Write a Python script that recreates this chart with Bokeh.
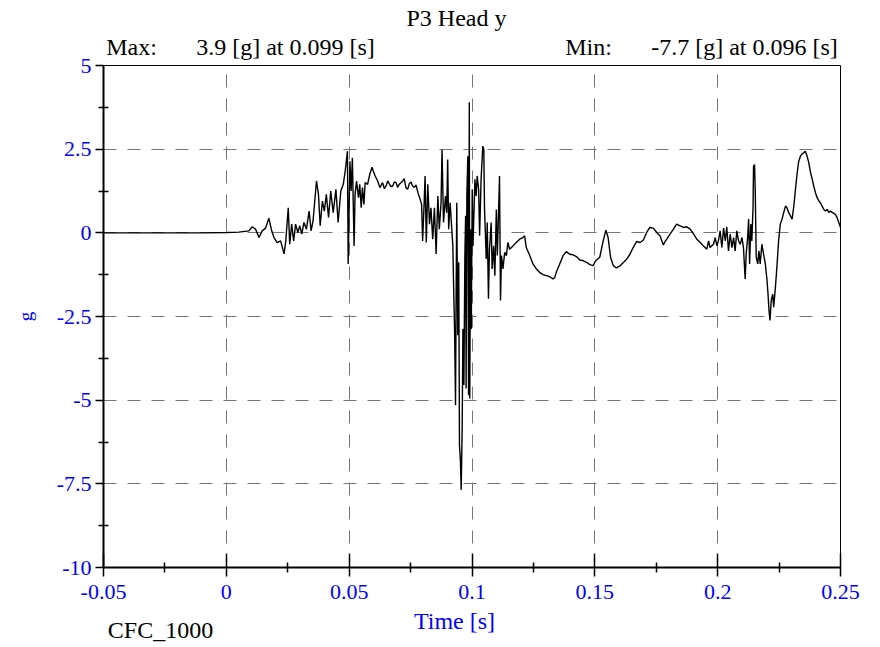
import math
import numpy as np
from bokeh.plotting import figure
from bokeh.models import Range1d, FixedTicker, CustomJSTickFormatter, LinearAxis
from bokeh.embed import file_html
from bokeh.resources import INLINE

# ---------------- data ----------------
time_s = [
    -0.05, -0.04, -0.03, -0.02, -0.01, 0.0, 0.0051, 0.0092, 0.0105, 0.0119,
    0.0133, 0.0146, 0.0160, 0.0173, 0.0184, 0.0194, 0.0207, 0.0221, 0.0235, 0.0242,
    0.0252, 0.0258, 0.0266, 0.0274, 0.0282, 0.0291, 0.0299, 0.0307, 0.0316, 0.0326,
    0.0337, 0.0345, 0.0353, 0.0367, 0.0375, 0.0382, 0.0391, 0.0399, 0.0407, 0.0416,
    0.0425, 0.0435, 0.0446, 0.0455, 0.0466, 0.0476, 0.0484, 0.0493,
    0.0496, 0.0503, 0.0508, 0.0513, 0.0520, 0.0524, 0.0530, 0.0538, 0.0543, 0.0549,
    0.0554, 0.0560, 0.0565, 0.0575, 0.0584, 0.0593, 0.0598, 0.0606, 0.0616, 0.0625,
    0.0636, 0.0643, 0.0650, 0.0657, 0.0663, 0.0670, 0.0677, 0.0684, 0.0691, 0.0697,
    0.0704, 0.0711, 0.0718, 0.0724, 0.0731, 0.0738, 0.0745, 0.0752, 0.0758, 0.0765,
    0.0772, 0.0780, 0.0789, 0.0795, 0.0799, 0.0805, 0.0809, 0.0814, 0.0820, 0.0827,
    0.0833, 0.0840, 0.0847, 0.0854,
    0.0861, 0.0867, 0.0874, 0.0878, 0.0884, 0.0892, 0.0897, 0.0901, 0.0905, 0.0911,
    0.0916, 0.0922, 0.0926, 0.0929, 0.0933, 0.0935, 0.0938, 0.0942, 0.0946, 0.0949,
    0.0953, 0.0956, 0.0960, 0.0963, 0.0967, 0.0971, 0.0974, 0.0976, 0.0979, 0.0983,
    0.0986, 0.0989, 0.0991, 0.0994, 0.0997, 0.1001, 0.1004, 0.1008, 0.1012, 0.1017,
    0.1021, 0.1027, 0.1031, 0.1037, 0.1044, 0.1048, 0.1051, 0.1058, 0.1062, 0.1067,
    0.1071, 0.1078, 0.1082, 0.1088, 0.1093, 0.1099, 0.1103, 0.1108, 0.1112, 0.1116,
    0.1120, 0.1126, 0.1133, 0.1140, 0.1146, 0.1153, 0.1167, 0.1180, 0.1194,
    0.1207, 0.1214, 0.1221, 0.1235, 0.1248, 0.1262, 0.1275, 0.1289, 0.1303, 0.1316,
    0.1330, 0.1337, 0.1343, 0.1357, 0.1371, 0.1384, 0.1398, 0.1412, 0.1425, 0.1439,
    0.1452, 0.1466, 0.1480, 0.1493, 0.1500, 0.1507, 0.1520, 0.1534, 0.1545, 0.1554,
    0.1564, 0.1575, 0.1588, 0.1602, 0.1616, 0.1629, 0.1643, 0.1656, 0.1670, 0.1684,
    0.1697, 0.1711, 0.1724, 0.1738, 0.1752, 0.1765, 0.1779, 0.1786, 0.1793, 0.1806,
    0.1820, 0.1833, 0.1847, 0.1861, 0.1874, 0.1888, 0.1901, 0.1915, 0.1929,
    0.1942, 0.1956, 0.1963, 0.1969, 0.1983, 0.1990, 0.1997, 0.2003, 0.2010, 0.2017,
    0.2024, 0.2031, 0.2037, 0.2044, 0.2051, 0.2058, 0.2065, 0.2071, 0.2078, 0.2085,
    0.2092, 0.2099, 0.2105, 0.2112, 0.2116, 0.2122, 0.2126, 0.2130, 0.2135, 0.2139,
    0.2144, 0.2146, 0.2150, 0.2153, 0.2157, 0.2163, 0.2168, 0.2173, 0.2180, 0.2187,
    0.2194, 0.2201, 0.2205, 0.2209, 0.2213, 0.2218, 0.2224, 0.2228, 0.2235, 0.2242,
    0.2248, 0.2255, 0.2262, 0.2269, 0.2276, 0.2282, 0.2289, 0.2296, 0.2303, 0.2310,
    0.2316, 0.2323, 0.2330, 0.2337, 0.2344, 0.2350, 0.2357, 0.2364, 0.2371, 0.2378,
    0.2385, 0.2391, 0.2398, 0.2405, 0.2412, 0.2418, 0.2425, 0.2432, 0.2439, 0.2446,
    0.2452, 0.2459, 0.2466, 0.2473, 0.2480, 0.2487, 0.2493, 0.2500,
]
accel_g = [
    0.0, 0.0, 0.0, 0.0, 0.0, 0.01, 0.02, 0.06, 0.18, 0.11,
    -0.14, 0.06, 0.14, 0.44, 0.08, -0.14, -0.29, -0.24, -0.63, -0.24,
    0.75, -0.34, 0.26, -0.24, 0.26, 0.01, 0.21, -0.04, 0.31, 0.11,
    0.65, 0.06, 0.36, 1.55, 1.15, 0.21, 0.95, 0.65, 1.15, 0.46,
    1.25, 0.60, 1.30, 0.31, 1.25, 1.45, 1.85, 2.44,
    -0.93, 2.14, 1.25, 2.24, -0.39, 1.15, 1.55, 1.05, 1.45, 0.75,
    1.35, 0.85, 1.50, 1.45, 1.75, 1.96, 1.85, 1.70, 1.55, 1.35,
    1.50, 1.32, 1.40, 1.55, 1.47, 1.38, 1.40, 1.52, 1.50, 1.36,
    1.45, 1.50, 1.55, 1.62, 1.35, 1.30, 1.47, 1.52, 1.40, 1.36,
    1.43, 1.20, 1.00, 0.85, -0.24, 0.85, 1.70, -0.29, 1.45, 0.26,
    0.75, -0.19, 0.75, -0.63,
    1.10, 0.11, 0.90, 2.49, 0.31, 1.10, 0.60, 2.19, 0.11, 0.90,
    0.31, -0.39, -1.87, -2.87, -5.15, -2.27, 0.90, -3.06, -0.88, -6.34,
    -6.83, -7.68, -5.84, -2.87, -4.55, -0.68, 0.51, -4.65, 1.10, 2.29,
    -4.85, 3.90, -4.95, 0.11, -2.87, 1.30, -0.39, 0.60, 1.60, 1.10,
    1.70, 1.30, -0.09, 1.60, 2.59, 2.49, 0.70, -0.78, 0.31, -1.97,
    -0.49, 0.31, -1.08, -0.39, -1.28, 0.70, -0.68, 0.60, 1.70, -2.02,
    -0.68, -1.08, -0.58, -0.68, -0.29, -0.49, -0.39, -0.29, -0.19,
    -0.14, -0.09, -0.44, -0.68, -0.93, -1.08, -1.18, -1.25, -1.28, -1.31,
    -1.38, -1.33, -1.18, -0.93, -0.68, -0.56, -0.64, -0.66, -0.71, -0.81,
    -0.83, -0.88, -0.95, -0.98, -0.88, -0.81, -0.73, -0.24, 0.08, -0.14,
    -0.73, -0.98, -1.05, -0.99, -0.89, -0.79, -0.64, -0.44, -0.26, -0.29,
    -0.22, 0.01, 0.16, 0.14, 0.01, -0.09, -0.36, -0.26, -0.19, -0.04,
    0.11, 0.26, 0.21, 0.16, 0.18, 0.11, -0.02, -0.19, -0.29,
    -0.39, -0.49, -0.24, -0.44, -0.34, -0.14, -0.39, -0.24, 0.06, -0.44,
    0.14, -0.24, 0.18, -0.54, -0.04, -0.44, -0.14, -0.54, 0.06, -0.24,
    -0.34, -0.14, -0.44, -1.38, -0.64, -0.14, 0.41, -0.93, 0.26, -0.24,
    0.75, 1.99, 2.04, 1.25, -0.73, -0.93, -0.54, -0.93, -0.34, -0.64,
    -0.93, -1.43, -1.83, -2.32, -2.62, -2.02, -1.83, -2.22, -1.63, -0.93,
    -0.24, 0.26, 0.41, 0.61, 0.80, 0.75, 0.61, 0.51, 0.41, 0.80,
    1.25, 1.75, 2.14, 2.29, 2.36, 2.39, 2.44, 2.29, 2.09, 1.80,
    1.60, 1.40, 1.20, 1.05, 0.95, 0.90, 0.80, 0.70, 0.65, 0.70,
    0.61, 0.65, 0.61, 0.58, 0.54, 0.44, 0.31, 0.16,
]

x_ticks = [-0.05, 0.0, 0.05, 0.1, 0.15, 0.2, 0.25]
x_tick_labels = ["-0.05", "0", "0.05", "0.1", "0.15", "0.2", "0.25"]
y_ticks = [5.0, 2.5, 0.0, -2.5, -5.0, -7.5, -10.0]
y_tick_labels = ["5", "2.5", "0", "-2.5", "-5", "-7.5", "-10"]

title_text = "P3 Head y"
x_title = "Time [s]"
y_title = "g"
filter_text = "CFC_1000"

# ---------------- layout ----------------
X0, X1 = -0.05, 0.25
Y0, Y1 = -10.0, 5.0
W, H = 872, 645
FL, FR, FT, FB = 103, 840, 65, 568   # frame edges in figure pixels

def dx(px):
    return X0 + (px - FL) / (FR - FL) * (X1 - X0)

FONT = "Liberation Serif"
BLUE = "#0000ff"

p = figure(width=W, height=H, output_backend="svg", toolbar_location=None,
           x_range=Range1d(X0, X1), y_range=Range1d(Y0, Y1),
           min_border_left=FL, min_border_right=W - FR,
           min_border_top=FT, min_border_bottom=H - FB)
p.background_fill_color = "white"
p.border_fill_color = "white"
p.outline_line_color = "black"
p.outline_line_width = 1

x_minor = [(a + b) / 2 for a, b in zip(x_ticks[:-1], x_ticks[1:])]
y_minor = [(a + b) / 2 for a, b in zip(y_ticks[:-1], y_ticks[1:])]
xt = FixedTicker(ticks=x_ticks, minor_ticks=x_minor)
yt = FixedTicker(ticks=y_ticks, minor_ticks=y_minor)

fmt_code = """
for (let i = 0; i < vals.length; i++) {
  if (Math.abs(vals[i] - tick) < 1e-9) return labs[i];
}
return '';
"""
def lookup_formatter(vals, labs):
    return CustomJSTickFormatter(args=dict(vals=list(vals), labs=list(labs)), code=fmt_code)

p.xaxis.ticker = xt
p.yaxis.ticker = yt
p.xaxis.formatter = lookup_formatter(x_ticks, x_tick_labels)
p.yaxis.formatter = lookup_formatter(y_ticks, y_tick_labels)

for ax in (p.xaxis, p.yaxis):
    ax.axis_line_color = "black"
    ax.axis_line_width = 2
    ax.major_tick_line_color = "black"
    ax.minor_tick_line_color = "black"
    ax.major_tick_line_width = 1.5
    ax.minor_tick_line_width = 1.5
    ax.major_label_text_font = FONT
    ax.major_label_text_font_size = "22px"
    ax.major_label_text_color = BLUE
    ax.minor_tick_in = 5
    ax.minor_tick_out = 5

p.xaxis.major_tick_in = 14
p.xaxis.major_tick_out = 9
p.xaxis.major_label_standoff = 8
p.yaxis.major_tick_in = 0
p.yaxis.major_tick_out = 8
p.yaxis.major_label_standoff = 4

p.yaxis.axis_label = y_title
p.yaxis.axis_label_text_font = FONT
p.yaxis.axis_label_text_font_size = "19px"
p.yaxis.axis_label_text_font_style = "normal"
p.yaxis.axis_label_text_color = BLUE
p.yaxis.axis_label_standoff = 18

p.xgrid.ticker = xt
p.ygrid.ticker = yt
for g in (p.xgrid, p.ygrid):
    g.grid_line_color = "#777777"
    g.grid_line_dash = "13 11"
    g.grid_line_width = 1

p.line(time_s, accel_g, line_color="black", line_width=1.4)

# ---------------- header / footer texts (as axis labels at chosen spots) ----------------
i_max = int(np.argmax(accel_g))
i_min = int(np.argmin(accel_g))
max_text = f"{accel_g[i_max]:.1f} [g] at {time_s[i_max]:.3f} [s]"
min_text = f"{accel_g[i_min]:.1f} [g] at {time_s[i_min]:.3f} [s]"

def text_axis(texts, centers_px, standoff, color, size):
    pos = [dx(c) for c in centers_px]
    ax = LinearAxis(ticker=FixedTicker(ticks=pos, minor_ticks=[]),
                    formatter=lookup_formatter(pos, texts))
    ax.axis_line_color = None
    ax.major_tick_line_color = None
    ax.minor_tick_line_color = None
    ax.major_tick_in = 0
    ax.major_tick_out = 0
    ax.major_label_standoff = standoff
    ax.major_label_text_font = FONT
    ax.major_label_text_font_size = size
    ax.major_label_text_color = color
    return ax

header = text_axis(["Max:", max_text, "Min:", min_text], [131, 285, 588, 744], 6, "black", "24px")
p.add_layout(header, "above")
title_row = text_axis([title_text], [456], 0, "black", "24px")
p.add_layout(title_row, "above")

time_row = text_axis([x_title], [454], 6, BLUE, "24px")
p.add_layout(time_row, "below")
cfc_row = text_axis([filter_text], [160], -20, "black", "24px")
p.add_layout(cfc_row, "below")

open("out.html", "w").write(file_html(p, INLINE))
